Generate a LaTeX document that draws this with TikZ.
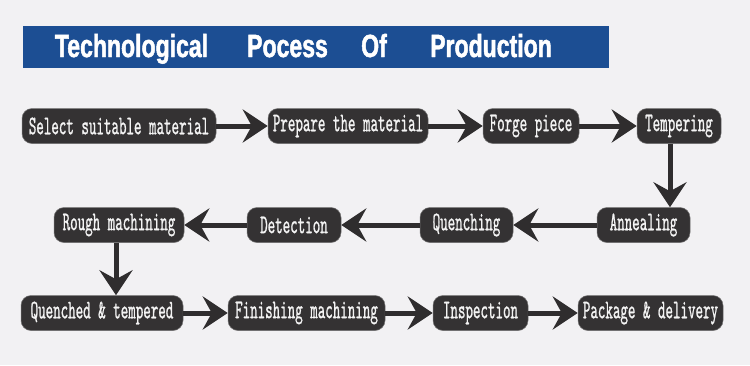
\documentclass[tikz,border=0pt]{standalone}
\usepackage{xcolor}
\usepackage{fontspec}
\usepackage{tikz}
\usetikzlibrary{arrows.meta, positioning}
\newfontfamily\titlefont{Liberation Sans}[FakeStretch=0.72, FakeBold=1.5]
\newfontfamily\stagefont{lmmono10-regular.otf}[FakeStretch=0.53, FakeBold=0.8]
\definecolor{pagebg}{HTML}{F2F1F3}
\definecolor{bannerblue}{HTML}{1C4E93}
\definecolor{stagefill}{HTML}{343233}
\definecolor{arrowgray}{HTML}{2F2D2E}
\definecolor{textwhite}{HTML}{F4F4F4}
\tikzstyle{stage} = [rectangle, rounded corners=10pt, minimum height=35pt, inner sep=0pt, fill=stagefill, draw=stagefill!70!white, line width=0.5pt, text=textwhite, font=\stagefont\fontsize{27}{27}\selectfont]
\tikzstyle{banner} = [anchor=base, text=white, font=\titlefont\fontsize{32}{32}\selectfont\bfseries]
\tikzstyle{flow} = [line width=5pt, draw=arrowgray, -{Stealth[length=25pt, width=33pt, inset=9pt]}]

\begin{document}
\begin{tikzpicture}[x=1pt, y=-1pt]
    \fill[pagebg] (0,0) rectangle (750,365);
    \useasboundingbox (0,0) rectangle (750,365);

    % banner
    \fill[bannerblue] (23,26) rectangle (609,68);
    \node[banner] (ttech) at (131.5,57) {Technological};
    \node[banner] (tproc) at (287.5,57) {Pocess};
    \node[banner] (tof) at (374,57) {Of};
    \node[banner] (tprod) at (491,57) {Production};

    % first row
    \node[stage, minimum width=194pt] (select) at (119,126) {Select suitable material};
    \node[stage, minimum width=160pt] (prepare) at (348,126) {Prepare the material};
    \node[stage, minimum width=96pt] (forge) at (531,126) {Forge piece};
    \node[stage, minimum width=84pt] (tempering) at (679,126) {Tempering};

    % second row
    \node[stage, minimum width=130pt] (rough) at (119,225) {Rough machining};
    \node[stage, minimum width=94pt] (detection) at (294,225) {Detection};
    \node[stage, minimum width=93pt] (quenching) at (466.5,225) {Quenching};
    \node[stage, minimum width=93pt] (annealing) at (643.5,225) {Annealing};

    % third row
    \node[stage, minimum width=162pt] (quenched) at (102,313) {Quenched \& tempered};
    \node[stage, minimum width=157pt] (finishing) at (306.5,313) {Finishing machining};
    \node[stage, minimum width=95pt] (inspection) at (480.5,313) {Inspection};
    \node[stage, minimum width=145pt] (package) at (650.5,313) {Package \& delivery};

    \draw[flow] (select) -- (prepare);
    \draw[flow] (prepare) -- (forge);
    \draw[flow] (forge) -- (tempering);
    \draw[flow] ([xshift=-9pt]tempering.south) -- ([xshift=-9pt]tempering.south |- annealing.north);
    \draw[flow] (annealing) -- (quenching);
    \draw[flow] (quenching) -- (detection);
    \draw[flow] (detection) -- (rough);
    \draw[flow] ([xshift=-3pt]rough.south) -- ([xshift=-3pt]rough.south |- quenched.north);
    \draw[flow] (quenched) -- (finishing);
    \draw[flow] (finishing) -- (inspection);
    \draw[flow] (inspection) -- (package);
\end{tikzpicture}
\end{document}
